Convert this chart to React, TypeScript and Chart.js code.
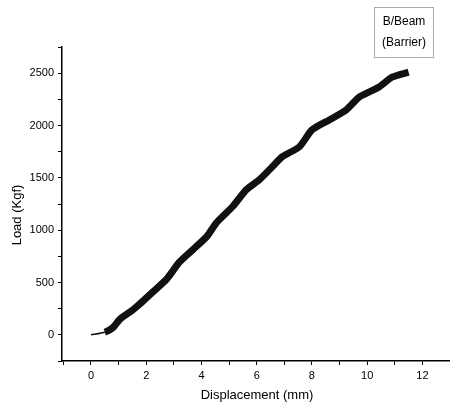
import React, { useEffect, useRef } from "react";
import { Chart, registerables } from "chart.js";

Chart.register(...registerables);

const displacement = [0, 0.5, 0.8, 1.05, 1.5, 1.77, 2.24, 2.74, 3.2, 3.7, 4.2, 4.55, 5.13, 5.63, 6.1, 6.57, 6.93, 7.55, 8.0, 8.63, 9.24, 9.71, 10.43, 10.9, 11.5];
const load = [0, 25, 70, 150, 235, 295, 410, 532, 694, 817, 941, 1074, 1226, 1388, 1483, 1607, 1702, 1797, 1958, 2053, 2148, 2272, 2367, 2462, 2510];
const seriesLabel = ["B/Beam", "(Barrier)"];
const xTitle = "Displacement (mm)";
const yTitle = "Load (Kgf)";
const xTickValues = [-1, 0, 1, 2, 3, 4, 5, 6, 7, 8, 9, 10, 11, 12];
const xLabelTicks = [0, 2, 4, 6, 8, 10, 12];
const yLabelTicks = [0, 500, 1000, 1500, 2000, 2500];

export default function App() {
  const ref = useRef<HTMLCanvasElement>(null);
  useEffect(() => {
    document.body.style.margin = "0";
    const canvas = ref.current!;
    const font = "Arial, 'Liberation Sans', sans-serif";
    const overlay = {
      id: "overlay",
      afterDraw(chart: any) {
        const ctx = chart.ctx;
        ctx.save();
        ctx.fillStyle = "#000";
        ctx.font = `13px ${font}`;
        ctx.textAlign = "center";
        ctx.textBaseline = "middle";
        ctx.fillText(xTitle, 257, 395);
        ctx.save();
        ctx.translate(17, 215);
        ctx.rotate(-Math.PI / 2);
        ctx.fillText(yTitle, 0, 0);
        ctx.restore();
        // legend box
        ctx.strokeStyle = "#555";
        ctx.lineWidth = 1;
        ctx.setLineDash([1, 1]);
        ctx.strokeRect(374.5, 7.5, 59, 50);
        ctx.setLineDash([]);
        ctx.font = `12px ${font}`;
        ctx.fillText(seriesLabel[0], 404, 22);
        ctx.fillText(seriesLabel[1], 404, 43);
        ctx.restore();
      },
    };
    const chart = new Chart(canvas, {
      type: "line",
      data: {
        datasets: [
          {
            data: displacement.map((x, i) => ({ x, y: load[i] })),
            borderColor: "#111",
            borderWidth: 7,
            pointRadius: 0,
            tension: 0.2,
            segment: {
              borderWidth: (c: any) => (c.p0DataIndex === 0 ? 1.5 : 7),
            },
          },
        ],
      },
      options: {
        animation: false,
        responsive: false,
        layout: { padding: { top: 47, right: 0, left: 0, bottom: 0 } },
        plugins: { legend: { display: false }, tooltip: { enabled: false } },
        scales: {
          x: {
            type: "linear",
            min: -1.05,
            max: 13,
            border: { color: "#000", width: 1.5 },
            grid: { drawOnChartArea: false, tickLength: 4, tickColor: "#000" },
            afterBuildTicks: (s: any) => {
              s.ticks = xTickValues.map((value) => ({ value }));
            },
            ticks: {
              autoSkip: false,
              maxRotation: 0,
              padding: 4,
              color: "#000",
              font: { family: font, size: 11 },
              callback: (v: any) => (xLabelTicks.includes(v) ? String(v) : ""),
            },
            afterFit: (s: any) => {
              s.height = 49;
            },
          },
          y: {
            type: "linear",
            min: -250,
            max: 2750,
            border: { color: "#000", width: 1.5 },
            grid: { drawOnChartArea: false, tickLength: 4, tickColor: "#000" },
            ticks: {
              stepSize: 250,
              autoSkip: false,
              padding: 4,
              color: "#000",
              font: { family: font, size: 11 },
              callback: (v: any) => (yLabelTicks.includes(v) ? String(v) : ""),
            },
            afterFit: (s: any) => {
              s.width = 62;
            },
          },
        },
      },
      plugins: [overlay],
    });
    return () => chart.destroy();
  }, []);
  return <canvas ref={ref} width={450} height={410} style={{ display: "block" }} />;
}
